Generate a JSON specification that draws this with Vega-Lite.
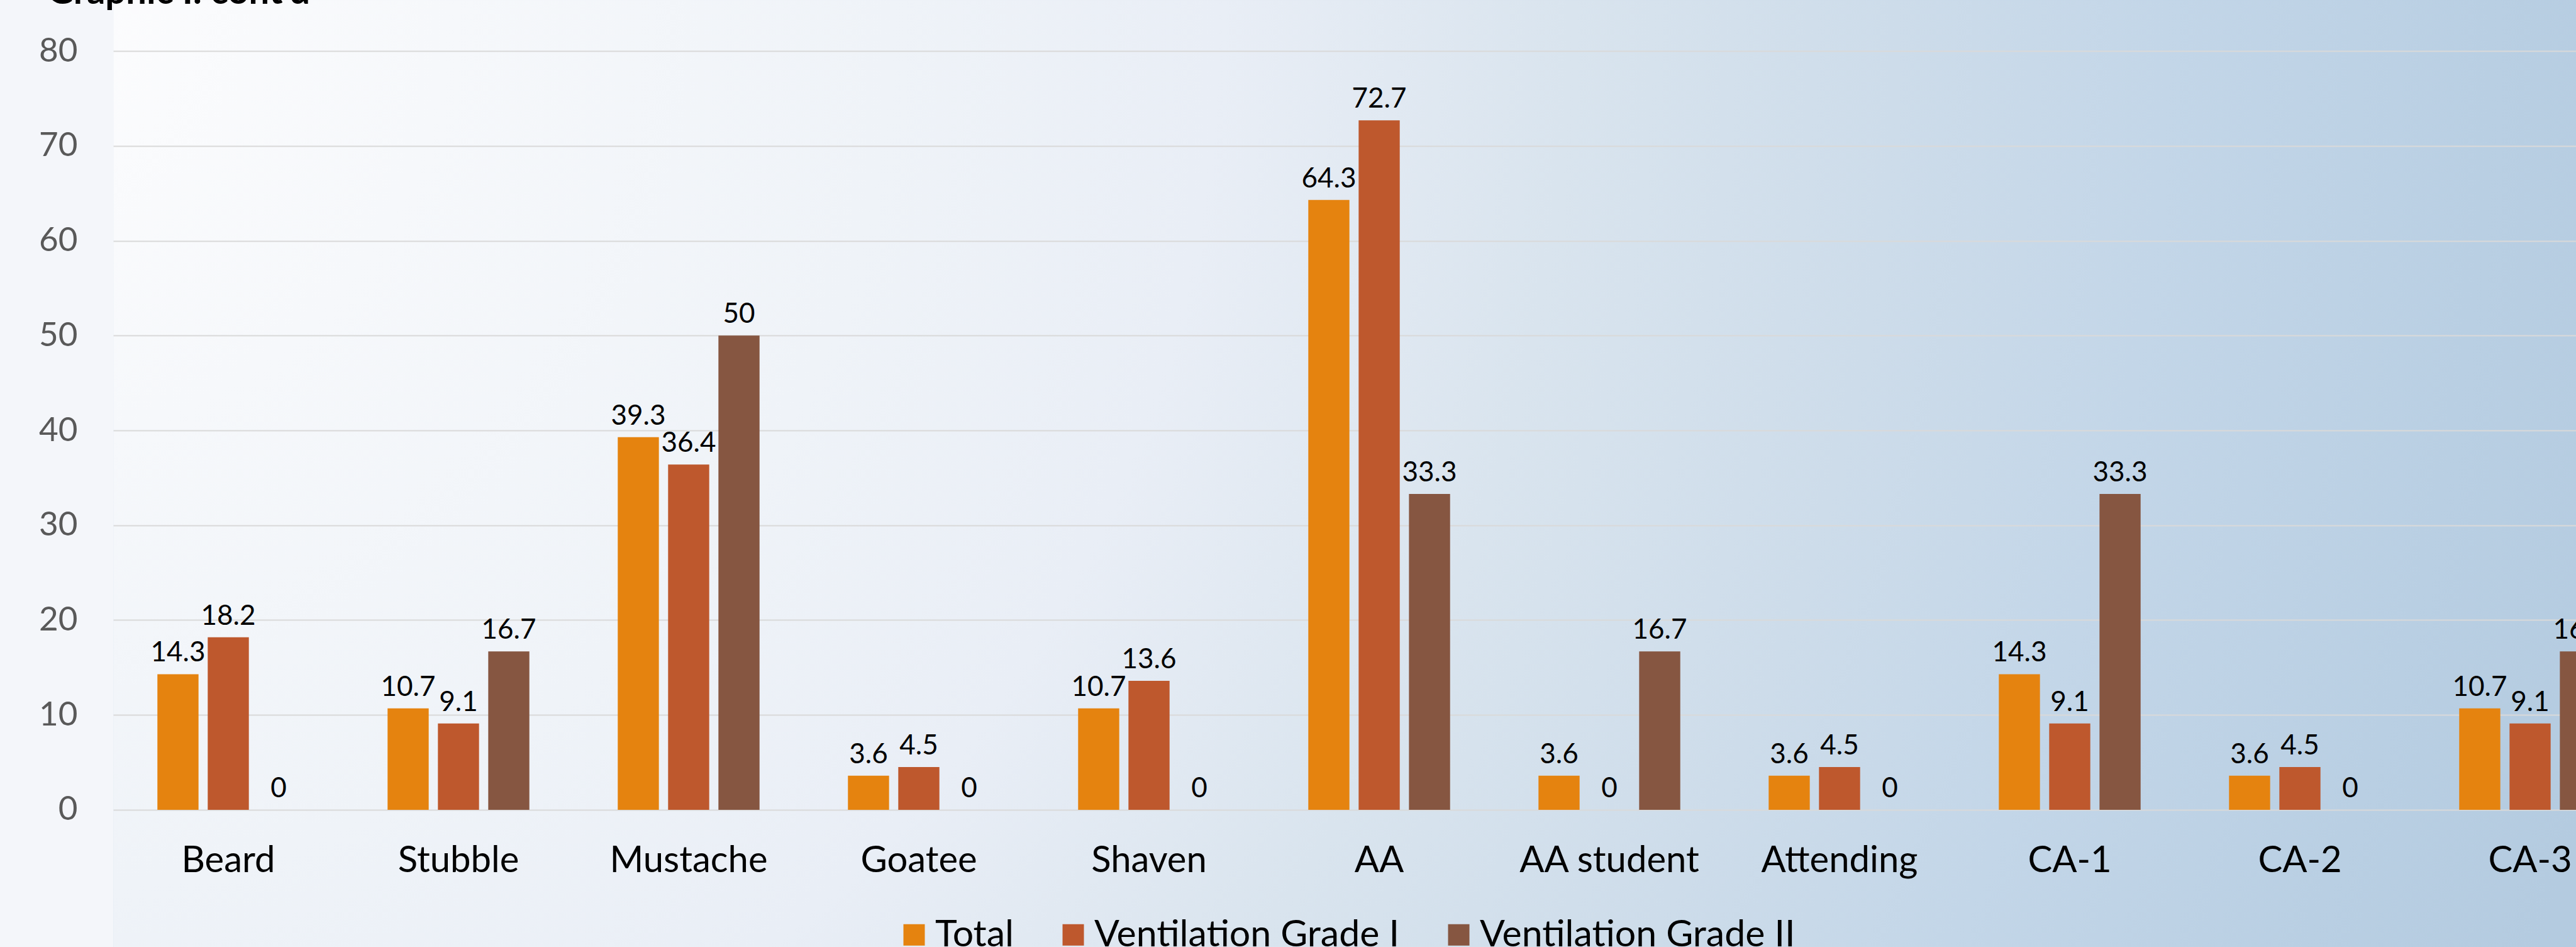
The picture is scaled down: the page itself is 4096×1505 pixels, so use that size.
{
  "$schema": "https://vega.github.io/schema/vega-lite/v6.json",
  "autosize": {"type": "none"},
  "width": 4026,
  "height": 1505,
  "padding": {"left": 180, "top": 0, "right": 0, "bottom": 0},
  "background": "#f4f6fa",
  "view": {
    "stroke": null,
    "fill": {
      "gradient": "radial",
      "x1": -0.045, "y1": 0.313, "r1": 0,
      "x2": -0.045, "y2": 0.313, "r2": 1.07,
      "stops": [
        {"offset": 0, "color": "#fdfdfe"},
        {"offset": 0.33, "color": "#eff3f8"},
        {"offset": 0.45, "color": "#e9eef6"},
        {"offset": 0.58, "color": "#d9e4ee"},
        {"offset": 0.7, "color": "#cddcea"},
        {"offset": 0.8, "color": "#c3d6e8"},
        {"offset": 0.92, "color": "#b9cfe3"},
        {"offset": 1, "color": "#b4cbe0"}
      ]
    }
  },
  "title": {
    "text": "Graphic I. cont'd",
    "anchor": "start",
    "frame": "group",
    "orient": "top",
    "baseline": "alphabetic",
    "offset": -64,
    "dx": -105,
    "font": "Lato",
    "fontSize": 58,
    "fontWeight": "bold",
    "color": "#000000"
  },
  "data": {
    "values": [
      {"cat": "Beard", "series": "Total", "value": 14.3},
      {"cat": "Beard", "series": "Ventilation Grade I", "value": 18.2},
      {"cat": "Beard", "series": "Ventilation Grade II", "value": 0},
      {"cat": "Stubble", "series": "Total", "value": 10.7},
      {"cat": "Stubble", "series": "Ventilation Grade I", "value": 9.1},
      {"cat": "Stubble", "series": "Ventilation Grade II", "value": 16.7},
      {"cat": "Mustache", "series": "Total", "value": 39.3},
      {"cat": "Mustache", "series": "Ventilation Grade I", "value": 36.4},
      {"cat": "Mustache", "series": "Ventilation Grade II", "value": 50},
      {"cat": "Goatee", "series": "Total", "value": 3.6},
      {"cat": "Goatee", "series": "Ventilation Grade I", "value": 4.5},
      {"cat": "Goatee", "series": "Ventilation Grade II", "value": 0},
      {"cat": "Shaven", "series": "Total", "value": 10.7},
      {"cat": "Shaven", "series": "Ventilation Grade I", "value": 13.6},
      {"cat": "Shaven", "series": "Ventilation Grade II", "value": 0},
      {"cat": "AA", "series": "Total", "value": 64.3},
      {"cat": "AA", "series": "Ventilation Grade I", "value": 72.7},
      {"cat": "AA", "series": "Ventilation Grade II", "value": 33.3},
      {"cat": "AA student", "series": "Total", "value": 3.6},
      {"cat": "AA student", "series": "Ventilation Grade I", "value": 0},
      {"cat": "AA student", "series": "Ventilation Grade II", "value": 16.7},
      {"cat": "Attending", "series": "Total", "value": 3.6},
      {"cat": "Attending", "series": "Ventilation Grade I", "value": 4.5},
      {"cat": "Attending", "series": "Ventilation Grade II", "value": 0},
      {"cat": "CA-1", "series": "Total", "value": 14.3},
      {"cat": "CA-1", "series": "Ventilation Grade I", "value": 9.1},
      {"cat": "CA-1", "series": "Ventilation Grade II", "value": 33.3},
      {"cat": "CA-2", "series": "Total", "value": 3.6},
      {"cat": "CA-2", "series": "Ventilation Grade I", "value": 4.5},
      {"cat": "CA-2", "series": "Ventilation Grade II", "value": 0},
      {"cat": "CA-3", "series": "Total", "value": 10.7},
      {"cat": "CA-3", "series": "Ventilation Grade I", "value": 9.1},
      {"cat": "CA-3", "series": "Ventilation Grade II", "value": 16.7}
    ]
  },
  "encoding": {
    "x": {
      "field": "cat",
      "type": "nominal",
      "sort": null,
      "scale": {"paddingInner": 0.384, "paddingOuter": 0.192},
      "axis": {
        "title": null,
        "orient": "bottom",
        "offset": -218,
        "domain": false,
        "ticks": false,
        "tickSize": 0,
        "grid": false,
        "labelAngle": 0,
        "labelBaseline": "alphabetic",
        "labelPadding": 98,
        "labelLimit": 2000,
        "labelFont": "Lato",
        "labelFontSize": 58,
        "labelColor": "#000000"
      }
    },
    "xOffset": {
      "field": "series",
      "type": "nominal",
      "sort": ["Total", "Ventilation Grade I", "Ventilation Grade II"],
      "scale": {"paddingInner": 0.183, "paddingOuter": 0}
    },
    "y": {
      "field": "value",
      "type": "quantitative",
      "scale": {"domain": [-14.47, 85.39], "nice": false, "zero": false},
      "axis": {
        "title": null,
        "values": [0, 10, 20, 30, 40, 50, 60, 70, 80],
        "domain": false,
        "ticks": false,
        "tickSize": 0,
        "grid": true,
        "gridColor": "#d9d9d9",
        "gridWidth": 2,
        "labelPadding": 57,
        "labelFont": "Lato",
        "labelFontSize": 53,
        "labelColor": "#595959"
      }
    }
  },
  "layer": [
    {
      "mark": {"type": "bar"},
      "encoding": {
        "y2": {"datum": 0},
        "color": {
          "field": "series",
          "type": "nominal",
          "sort": ["Total", "Ventilation Grade I", "Ventilation Grade II"],
          "scale": {
            "domain": ["Total", "Ventilation Grade I", "Ventilation Grade II"],
            "range": ["#E5830F", "#BE582D", "#865641"]
          },
          "legend": {
            "title": null,
            "orient": "none",
            "legendX": 1244,
            "legendY": 1456,
            "direction": "horizontal",
            "symbolType": "square",
            "symbolSize": 1156,
            "symbolStrokeWidth": 0,
            "labelFont": "Lato",
            "labelFontSize": 59,
            "labelColor": "#000000",
            "labelLimit": 2000,
            "labelOffset": 4,
            "columnPadding": 65,
            "padding": 0
          }
        }
      }
    },
    {
      "mark": {
        "type": "text",
        "baseline": "alphabetic",
        "dy": -20,
        "font": "Lato",
        "fontSize": 44,
        "color": "#000000"
      },
      "encoding": {
        "text": {"field": "value", "type": "quantitative", "format": ""}
      }
    }
  ]
}
